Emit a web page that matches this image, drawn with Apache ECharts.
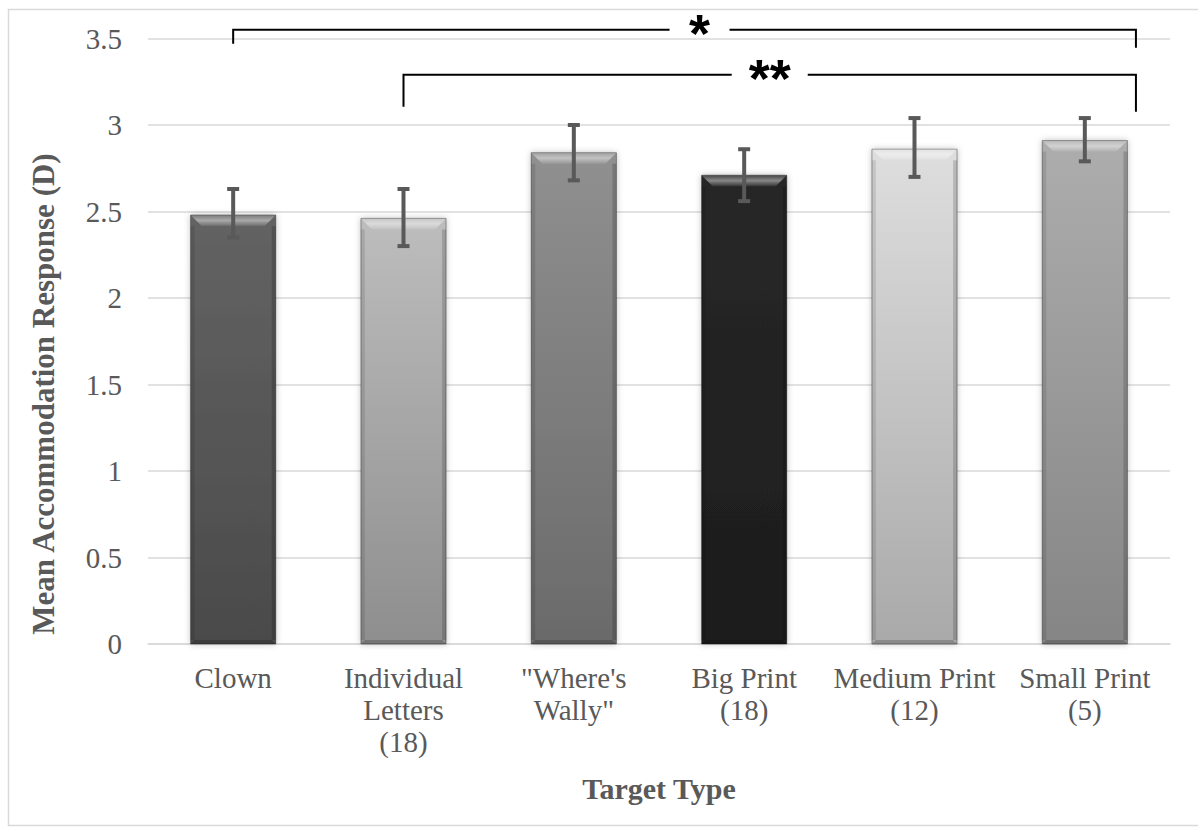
<!DOCTYPE html>
<html>
<head>
<meta charset="utf-8">
<script src="https://cdn.jsdelivr.net/npm/echarts@6/dist/echarts.min.js"></script>
<style>
  html, body { margin: 0; padding: 0; background: #fff; }
  #chart { width: 1198px; height: 834px; }
</style>
</head>
<body>
<div id="chart"></div>
<script>
// Data
const categories = ['Clown', 'Individual\nLetters\n(18)', '"Where\'s\nWally"', 'Big Print\n(18)', 'Medium Print\n(12)', 'Small Print\n(5)'];
const means = [2.48, 2.46, 2.84, 2.71, 2.86, 2.91];
const errLow = [2.35, 2.30, 2.68, 2.56, 2.70, 2.79];
const errHigh = [2.63, 2.63, 3.00, 2.86, 3.04, 3.04];
const yTicks = { min: 0, max: 3.5, step: 0.5 };

// Significance brackets (category index from/to, level in D)
const brackets = [
    { from: 0, to: 5, level: 3.55, label: '*' },
    { from: 1, to: 5, level: 3.29, label: '**' }
];

// Bar fills (top, bottom)
const barShades = [
    ['#636363', '#4a4a4a'],
    ['#bdbdbd', '#8e8e8e'],
    ['#909090', '#6a6a6a'],
    ['#282828', '#1c1c1c'],
    ['#dedede', '#a9a9a9'],
    ['#adadad', '#858585']
];

const textGrey = '#595959';
const serif = '"Liberation Serif", "Times New Roman", serif';

const chart = echarts.init(document.getElementById('chart'), null, { renderer: 'svg' });

function renderBar(params, api) {
    const i = api.value(0);
    const top = api.coord([i, api.value(1)]);
    const base = api.coord([i, 0]);
    const bw = api.size([1, 0])[0] * 0.5;
    const left = top[0] - bw / 2;
    const h = base[1] - top[1];
    const shade = barShades[i];
    const b = Math.min(11, h / 2);
    return {
        type: 'group',
        children: [
            {
                type: 'rect',
                shape: { x: left, y: top[1], width: bw, height: h },
                style: {
                    fill: new echarts.graphic.LinearGradient(0, 0, 0, 1, [
                        { offset: 0, color: shade[0] },
                        { offset: 1, color: shade[1] }
                    ]),
                    stroke: 'rgba(0,0,0,0.35)',
                    lineWidth: 1,
                    shadowBlur: 6,
                    shadowColor: 'rgba(0,0,0,0.25)'
                }
            },
            // side shading
            {
                type: 'rect',
                shape: { x: left, y: top[1] + b, width: 4, height: h - b - 4 },
                style: { fill: 'rgba(0,0,0,0.10)' }
            },
            {
                type: 'rect',
                shape: { x: left + bw - 4, y: top[1] + b, width: 4, height: h - b - 4 },
                style: { fill: 'rgba(0,0,0,0.16)' }
            },
            // top bevel
            {
                type: 'polygon',
                shape: { points: [[left, top[1]], [left + bw, top[1]], [left + bw - b, top[1] + b], [left + b, top[1] + b]] },
                style: {
                    fill: new echarts.graphic.LinearGradient(0, 0, 0, 1, [
                        { offset: 0, color: 'rgba(255,255,255,0.15)' },
                        { offset: 0.5, color: 'rgba(255,255,255,0.45)' },
                        { offset: 1, color: 'rgba(255,255,255,0.08)' }
                    ])
                }
            },
            // bottom bevel
            {
                type: 'polygon',
                shape: { points: [[left, base[1]], [left + bw, base[1]], [left + bw - 4, base[1] - 4], [left + 4, base[1] - 4]] },
                style: { fill: 'rgba(0,0,0,0.18)' }
            }
        ]
    };
}

function renderError(params, api) {
    const i = api.value(0);
    const lo = api.coord([i, api.value(1)]);
    const hi = api.coord([i, api.value(2)]);
    const cap = 6;
    const style = { stroke: '#595959', lineWidth: 4 };
    return {
        type: 'group',
        children: [
            { type: 'line', shape: { x1: lo[0], y1: lo[1], x2: hi[0], y2: hi[1] }, style: style },
            { type: 'line', shape: { x1: hi[0] - cap, y1: hi[1], x2: hi[0] + cap, y2: hi[1] }, style: style },
            { type: 'line', shape: { x1: lo[0] - cap, y1: lo[1], x2: lo[0] + cap, y2: lo[1] }, style: style }
        ]
    };
}

const option = {
    backgroundColor: '#fff',
    animation: false,
    grid: { left: 148, right: 28, top: 38.5, bottom: 190, containLabel: false },
    xAxis: {
        type: 'category',
        data: categories,
        axisLine: { show: true, lineStyle: { color: '#d9d9d9', width: 1.5 } },
        axisTick: { show: false },
        axisLabel: {
            interval: 0,
            margin: 18,
            color: textGrey,
            fontFamily: serif,
            fontSize: 29,
            lineHeight: 32
        },
        name: 'Target Type',
        nameLocation: 'middle',
        nameGap: 129,
        nameTextStyle: { color: textGrey, fontFamily: serif, fontSize: 30, fontWeight: 'bold', verticalAlign: 'top' }
    },
    yAxis: {
        type: 'value',
        min: yTicks.min,
        max: yTicks.max,
        interval: yTicks.step,
        axisLine: { show: false },
        axisTick: { show: false },
        splitLine: { lineStyle: { color: '#d9d9d9', width: 1.5 } },
        axisLabel: {
            margin: 26,
            color: textGrey,
            fontFamily: serif,
            fontSize: 29,
            formatter: v => String(v)
        }
    },
    series: [
        {
            type: 'custom',
            renderItem: renderBar,
            data: means.map((m, i) => [i, m]),
            encode: { x: 0, y: 1 },
            z: 2
        },
        {
            type: 'custom',
            renderItem: renderError,
            data: means.map((m, i) => [i, errLow[i], errHigh[i]]),
            encode: { x: 0, y: [1, 2] },
            z: 3
        }
    ]
};
chart.setOption(option);

// Frame, rotated y title, significance brackets
function drawOverlay() {
    const els = [
        {
            type: 'rect',
            shape: { x: 8.5, y: 9.5, width: 1200, height: 816 },
            style: { fill: 'none', stroke: '#d9d9d9', lineWidth: 1.5 },
            silent: true, z: 0
        },
        {
            type: 'text',
            x: 43, y: 394,
            rotation: Math.PI / 2,
            style: {
                text: 'Mean Accommodation Response (D)',
                fill: textGrey,
                font: 'bold 31px ' + serif,
                align: 'center',
                verticalAlign: 'middle'
            }
        }
    ];
    const band = chart.convertToPixel({ xAxisIndex: 0 }, 1) - chart.convertToPixel({ xAxisIndex: 0 }, 0);
    brackets.forEach((br, k) => {
        const x1 = chart.convertToPixel({ xAxisIndex: 0 }, br.from);
        const x2 = chart.convertToPixel({ xAxisIndex: 0 }, br.to) + band * 0.3;
        const y = chart.convertToPixel({ yAxisIndex: 0 }, br.level);
        const dropL = k === 0 ? 14 : 32;
        const dropR = k === 0 ? 18 : 37;
        const mid = (x1 + x2) / 2 + (k === 0 ? 15 : 0);
        const gap = k === 0 ? 30 : 38;
        const ls = { stroke: '#000', lineWidth: 2, fill: 'none' };
        els.push(
            { type: 'polyline', shape: { points: [[x1, y + dropL], [x1, y], [mid - gap, y]] }, style: ls, z: 10 },
            { type: 'polyline', shape: { points: [[mid + gap, y], [x2, y], [x2, y + dropR]] }, style: ls, z: 10 },
            {
                type: 'text', x: mid, y: y + 3, z: 10,
                style: {
                    text: br.label,
                    fill: '#000',
                    font: 'bold 54px "Liberation Sans", Arial, sans-serif',
                    align: 'center',
                    verticalAlign: 'middle'
                }
            }
        );
    });
    chart.setOption({ graphic: { elements: els } });
}
drawOverlay();
</script>
</body>
</html>
